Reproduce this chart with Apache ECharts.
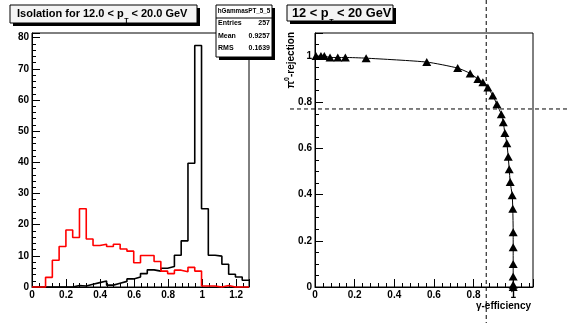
<!DOCTYPE html>
<html><head><meta charset="utf-8">
<script src="https://cdn.jsdelivr.net/npm/echarts@6/dist/echarts.min.js"></script>
<style>html,body{margin:0;padding:0;background:#fff}#c{width:567px;height:323px}</style>
</head><body><div id="c"></div>
<script>
// ---- data ----
const histMin = 0, histMax = 1.275, nBins = 32;
const redCounts = [0,0,3.1,8.6,13.0,18.3,15.9,25.1,15.4,13.3,13.7,13.0,13.7,12.2,11.5,7.8,10.1,10.1,8.2,5.1,4.3,5.4,4.9,6.3,5.1,0.3,0.3,0,0.5,0,0,0];
const blackCounts = [0,0,0,0,0,0,0.5,0.3,0.9,1.4,1.9,0.6,1.2,1.8,2.6,3.2,4.3,5.5,5.1,6.0,6.6,10.2,14.8,39.7,77.5,25.1,10.2,9.9,7.3,4.1,3.2,2.15];
const histYMax = 81.5;
const statsName = 'hGammasPT_5_5';
const statsRows = [['Entries','257'],['Mean','0.9257'],['RMS','0.1639']];
const effX = [0.005,0.03,0.047,0.076,0.115,0.153,0.258,0.564,0.72,0.783,0.822,0.847,0.872,0.897,0.918,0.94,0.95,0.958,0.968,0.975,0.98,0.985,0.995,0.998,1.0,1.0,1.0,1.0,1.0,1.0];
const rejY = [1.0,1.0,1.0,0.994,0.994,0.994,0.991,0.974,0.948,0.925,0.901,0.887,0.864,0.829,0.791,0.748,0.713,0.667,0.622,0.564,0.51,0.455,0.397,0.339,0.237,0.172,0.1,0.046,0.01,0.0];
const cutEff = 0.864, cutRej = 0.771;
const leftTitle = ['Isolation for 12.0 < p','T',' < 20.0 GeV'];
const rightTitle = ['12 < p','T',' < 20 GeV'];

const FONT = "'Liberation Sans', Arial, Helvetica, sans-serif";
const mctx = document.createElement('canvas').getContext('2d');
function textW(t, size){ mctx.font = 'bold ' + size + 'px ' + FONT; return mctx.measureText(t).width; }
function stepData(counts){
  const w = (histMax - histMin) / nBins;
  const d = counts.map((v,i)=>[histMin + i*w, v]);
  d.push([histMax, counts[counts.length-1]]);
  return d;
}
const fmt = v => String(+v.toFixed(2));
function axisCommon(minorSplit){
  return {
    axisLine:{show:true,onZero:false,lineStyle:{color:'#000',width:1}},
    axisTick:{show:true,inside:true,length:8,lineStyle:{color:'#000',width:1}},
    minorTick:{show:true,splitNumber:minorSplit,length:4,lineStyle:{color:'#000',width:1}},
    splitLine:{show:false},
    axisLabel:{color:'#000',fontFamily:FONT,fontWeight:'bold',fontSize:10,margin:3,formatter:fmt,showMaxLabel:false}
  };
}
const chart = echarts.init(document.getElementById('c'), null, {renderer:'canvas'});
const option = {
  animation:false,
  backgroundColor:'#fff',
  grid:[
    {left:32,top:33,width:217,height:254,show:true,borderColor:'#000',borderWidth:1,backgroundColor:'transparent'},
    {left:315,top:33,width:218,height:254,show:true,borderColor:'#000',borderWidth:1,backgroundColor:'transparent'}
  ],
  xAxis:[
    Object.assign(axisCommon(5),{type:'value',gridIndex:0,min:histMin,max:histMax,interval:0.2}),
    Object.assign(axisCommon(5),{type:'value',gridIndex:1,min:0,max:1.1,interval:0.2})
  ],
  yAxis:[
    Object.assign(axisCommon(5),{type:'value',gridIndex:0,min:0,max:histYMax,interval:10}),
    Object.assign(axisCommon(4),{type:'value',gridIndex:1,min:0,max:1.1,interval:0.2})
  ],
  series:[
    {type:'line',xAxisIndex:0,yAxisIndex:0,step:'end',data:stepData(blackCounts),showSymbol:false,symbol:'none',clip:false,lineStyle:{color:'#000',width:1.6},z:2},
    {type:'line',xAxisIndex:0,yAxisIndex:0,step:'end',data:stepData(redCounts),showSymbol:false,symbol:'none',clip:false,lineStyle:{color:'#f00',width:1.6},z:3},
    {type:'line',xAxisIndex:1,yAxisIndex:1,data:effX.map((x,i)=>[x,rejY[i]]),smooth:0.2,symbol:'triangle',symbolSize:[9,8],showSymbol:true,clip:false,
     itemStyle:{color:'#000',borderWidth:0},lineStyle:{color:'#000',width:1},z:3}
  ]
};
chart.setOption(option);

// derived positions through the library's scales
const pCut = chart.convertToPixel({gridIndex:1},[cutEff,cutRej]);
const W = 567, H = 323;
function titleParts(parts, x, midY, size, subSize, subMidY){
  const els = [];
  let cx = x;
  const w0 = textW(parts[0], size), w1 = textW(parts[1], subSize);
  els.push({type:'text',x:cx,y:midY,style:{text:parts[0],fontFamily:FONT,fontWeight:'bold',fontSize:size,fill:'#000',verticalAlign:'middle'},z:102});
  cx += w0 + 0.5;
  els.push({type:'text',x:cx,y:subMidY,style:{text:parts[1],fontFamily:FONT,fontWeight:'bold',fontSize:subSize,fill:'#000',verticalAlign:'middle'},z:102});
  cx += w1;
  els.push({type:'text',x:cx,y:midY,style:{text:parts[2],fontFamily:FONT,fontWeight:'bold',fontSize:size,fill:'#000',verticalAlign:'middle'},z:102});
  return els;
}
let graphics = [
  // dashed cut lines
  {type:'line',shape:{x1:pCut[0],y1:0,x2:pCut[0],y2:H},style:{stroke:'#000',lineWidth:1,lineDash:[4,3]},z:50},
  {type:'line',shape:{x1:290,y1:pCut[1],x2:W,y2:pCut[1]},style:{stroke:'#000',lineWidth:1,lineDash:[4,3]},z:50},
  // left title
  {type:'rect',shape:{x:13,y:8,width:187,height:18},style:{fill:'#000'},z:100},
  {type:'rect',shape:{x:10,y:5,width:187,height:18},style:{fill:'#f4f4f4',stroke:'#000',lineWidth:1},z:101},
  // right title
  {type:'rect',shape:{x:290,y:8,width:106,height:16},style:{fill:'#000'},z:100},
  {type:'rect',shape:{x:287,y:5,width:106,height:16},style:{fill:'#f4f4f4',stroke:'#000',lineWidth:1},z:101},
  // stats box
  {type:'rect',shape:{x:219,y:8,width:56,height:52},style:{fill:'#000'},z:100},
  {type:'rect',shape:{x:216,y:5,width:56,height:52},style:{fill:'#fff',stroke:'#000',lineWidth:1},z:101},
  {type:'line',shape:{x1:216,y1:18,x2:272,y2:18},style:{stroke:'#000',lineWidth:1},z:102},
  {type:'text',x:244,y:11.5,style:{text:statsName,fontFamily:FONT,fontWeight:'bold',fontSize:6.3,fill:'#000',align:'center',verticalAlign:'middle'},z:102},
  // axis titles of the right plot
  {type:'text',x:290,y:32,rotation:Math.PI/2,style:{text:'{a|π}{s|0}{a|-rejection}',align:'right',verticalAlign:'middle',
    rich:{a:{fontFamily:FONT,fontWeight:'bold',fontSize:10,fill:'#000',verticalAlign:'bottom',lineHeight:13},
          s:{fontFamily:FONT,fontWeight:'bold',fontSize:7,fill:'#000',verticalAlign:'top',lineHeight:13}}},z:102},
  {type:'text',x:531,y:306,style:{text:'γ-efficiency',fontFamily:FONT,fontWeight:'bold',fontSize:10,fill:'#000',align:'right',verticalAlign:'middle'},z:102}
];
graphics = graphics.concat(titleParts(leftTitle, 17, 14.3, 11, 7, 21));
graphics = graphics.concat(titleParts(rightTitle, 292, 13.8, 12.8, 7, 21.6));
statsRows.forEach((r,i)=>{
  const y = 23.5 + i*12.3;
  graphics.push({type:'text',x:218,y:y,style:{text:r[0],fontFamily:FONT,fontWeight:'bold',fontSize:7,fill:'#000',align:'left',verticalAlign:'middle'},z:102});
  graphics.push({type:'text',x:270,y:y,style:{text:r[1],fontFamily:FONT,fontWeight:'bold',fontSize:7,fill:'#000',align:'right',verticalAlign:'middle'},z:102});
});
chart.setOption({graphic:{elements:graphics}});
</script></body></html>
